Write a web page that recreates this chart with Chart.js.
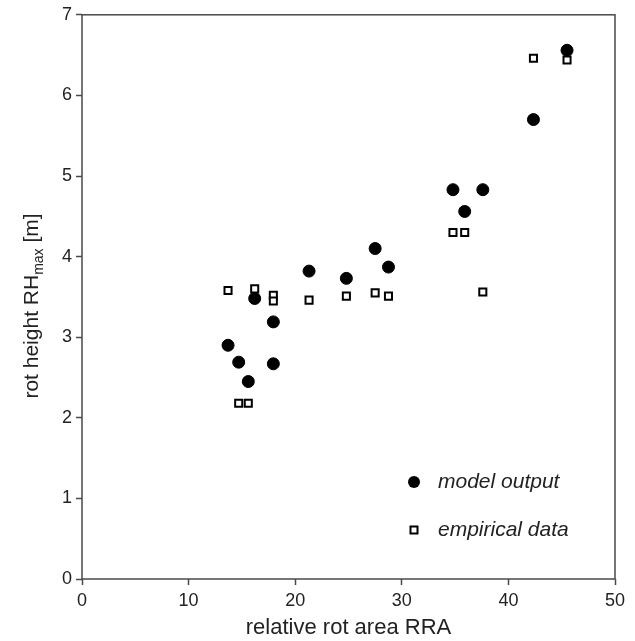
<!DOCTYPE html>
<html>
<head>
<meta charset="utf-8">
<script src="https://cdn.jsdelivr.net/npm/chart.js@4.4.1/dist/chart.umd.min.js"></script>
<style>
  html, body { margin: 0; padding: 0; background: #fff; }
  #wrap { width: 635px; height: 641px; }
</style>
</head>
<body>
<div id="wrap"><canvas id="rotChart"></canvas></div>
<script>
// relative rot area RRA (shared x values)
var rra = [13.7, 14.7, 15.6, 16.2, 17.95, 17.95, 21.3, 24.8, 27.5, 28.75, 34.8, 35.9, 37.6, 42.35, 45.5];
// rot height RHmax [m]
var modelOutput = [2.90, 2.69, 2.45, 3.48, 3.19, 2.67, 3.82, 3.73, 4.10, 3.87, 4.83, 4.56, 4.83, 5.70, 6.56];
var empiricalData = [3.58, 2.18, 2.18, 3.60, 3.52, 3.45, 3.46, 3.51, 3.55, 3.51, 4.30, 4.30, 3.56, 6.46, 6.44];
var xTicks = [0, 10, 20, 30, 40, 50];
var yTicks = [0, 1, 2, 3, 4, 5, 6, 7];

function toPoints(xs, ys) {
    return xs.map(function(x, i) { return { x: x, y: ys[i] }; });
}

var axisColor = '#4a4a4a';
var textColor = '#222';

// frame, y title with subscript and the legend inside the plot
var extras = {
    id: 'extras',
    afterDraw: function(chart) {
        var ctx = chart.ctx, a = chart.chartArea;
        ctx.save();
        ctx.strokeStyle = axisColor;
        ctx.lineWidth = 1.5;
        ctx.strokeRect(a.left, a.top, a.right - a.left, a.bottom - a.top);

        // y axis title
        ctx.fillStyle = textColor;
        ctx.textBaseline = 'alphabetic';
        ctx.textAlign = 'left';
        var big = '21px "Liberation Sans", Arial, sans-serif';
        var small = '14px "Liberation Sans", Arial, sans-serif';
        ctx.font = big;
        var p1 = 'rot height RH', p3 = ' [m]';
        var w1 = ctx.measureText(p1).width, w3 = ctx.measureText(p3).width;
        ctx.font = small;
        var w2 = ctx.measureText('max').width;
        var total = w1 + w2 + w3;
        ctx.translate(38, 306);
        ctx.rotate(-Math.PI / 2);
        var sx = -total / 2;
        ctx.font = big;
        ctx.fillText(p1, sx, 0);
        ctx.font = small;
        ctx.fillText('max', sx + w1, 5);
        ctx.font = big;
        ctx.fillText(p3, sx + w1 + w2, 0);
        ctx.restore();

        // legend
        ctx.save();
        ctx.font = 'italic 21px "Liberation Sans", Arial, sans-serif';
        ctx.textBaseline = 'middle';
        ctx.fillStyle = textColor;
        var rows = [482, 530];
        chart.data.datasets.forEach(function(ds, i) {
            var cy = rows[i];
            ctx.beginPath();
            if (ds.pointStyle === 'circle') {
                ctx.fillStyle = '#000';
                ctx.arc(414, cy, 6, 0, Math.PI * 2);
                ctx.fill();
            } else {
                ctx.fillStyle = '#fff';
                ctx.strokeStyle = '#000';
                ctx.lineWidth = 2;
                ctx.rect(410.5, cy - 3.5, 7, 7);
                ctx.fill();
                ctx.stroke();
            }
            ctx.fillStyle = textColor;
            ctx.fillText(ds.label, 438, cy);
        });
        ctx.restore();
    }
};

new Chart(document.getElementById('rotChart'), {
    type: 'scatter',
    data: {
        datasets: [{
            label: 'model output',
            data: toPoints(rra, modelOutput),
            pointStyle: 'circle',
            pointRadius: 6,
            pointHoverRadius: 6,
            backgroundColor: '#000',
            borderColor: '#000',
            borderWidth: 1,
            order: 1
        }, {
            label: 'empirical data',
            data: toPoints(rra, empiricalData),
            pointStyle: 'rect',
            pointRadius: 5,
            pointHoverRadius: 5,
            backgroundColor: '#fff',
            borderColor: '#000',
            borderWidth: 2,
            order: 0
        }]
    },
    options: {
        responsive: true,
        maintainAspectRatio: false,
        animation: false,
        layout: { padding: { left: 0, right: 20, top: 11, bottom: 0 } },
        plugins: {
            legend: { display: false },
            tooltip: { enabled: false }
        },
        scales: {
            x: {
                type: 'linear',
                min: 0,
                max: 50,
                afterBuildTicks: function(s) { s.ticks = xTicks.map(function(v) { return { value: v }; }); },
                afterFit: function(s) { s.height = 62; },
                border: { display: false },
                grid: { drawOnChartArea: false, drawTicks: true, tickLength: 6, tickColor: axisColor, tickWidth: 1.5 },
                ticks: { color: textColor, padding: 5, font: { size: 18, family: '"Liberation Sans", Arial, sans-serif' } },
                title: {
                    display: true,
                    text: 'relative rot area RRA',
                    color: textColor,
                    padding: { top: 0, bottom: 0 },
                    font: { size: 22, family: '"Liberation Sans", Arial, sans-serif' }
                }
            },
            y: {
                type: 'linear',
                min: 0,
                max: 7,
                afterBuildTicks: function(s) { s.ticks = yTicks.map(function(v) { return { value: v }; }); },
                afterFit: function(s) { s.width = 82; },
                border: { display: false },
                grid: { drawOnChartArea: false, drawTicks: true, tickLength: 6, tickColor: axisColor, tickWidth: 1.5 },
                ticks: { color: textColor, padding: 4, font: { size: 18, family: '"Liberation Sans", Arial, sans-serif' } }
            }
        }
    },
    plugins: [extras]
});
</script>
</body>
</html>
